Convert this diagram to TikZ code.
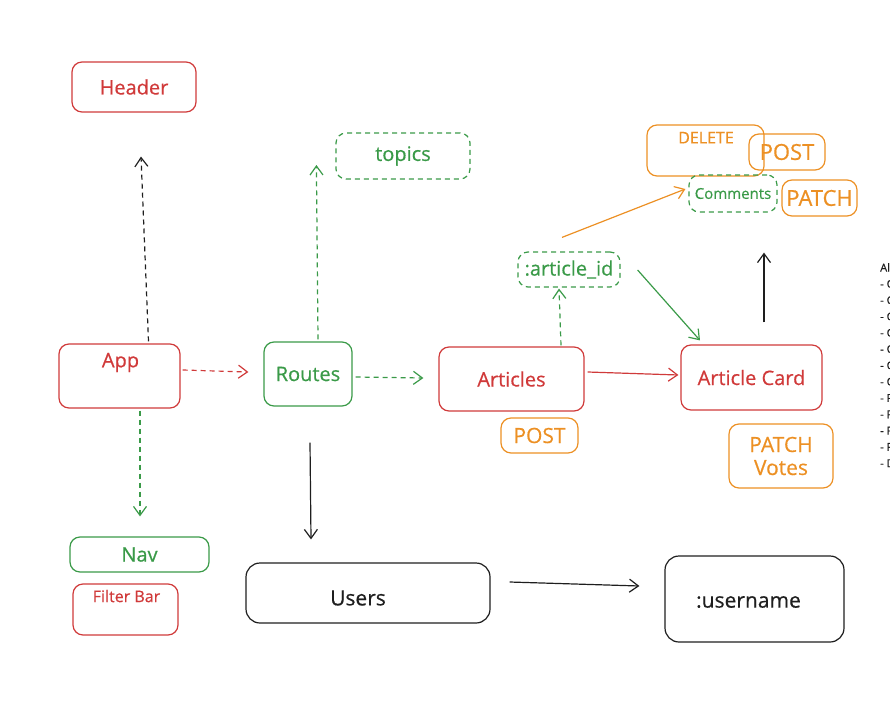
\documentclass[tikz,border=0pt]{standalone}
\usepackage{fontspec}
\setmainfont{Open Sans}[FakeBold=0.5]
\usetikzlibrary{arrows.meta}
\definecolor{cred}{HTML}{D03A3A}
\definecolor{cgreen}{HTML}{3A9A48}
\definecolor{corange}{HTML}{EC9024}
\definecolor{cblack}{HTML}{1E1E1E}
\tikzset{
  box/.style={draw, rectangle, rounded corners=10pt, line width=1.2pt, inner sep=0pt},
  bred/.style={box, draw=cred, text=cred},
  bgreen/.style={box, draw=cgreen, text=cgreen},
  borange/.style={box, draw=corange, text=corange},
  bblack/.style={box, draw=cblack, text=cblack, rounded corners=14pt},
  dsh/.style={dash pattern=on 5pt off 4pt},
  conn/.style={line width=1.2pt, -{Straight Barb[length=9pt,width=13pt]}},
  fs/.style={font=\fontsize{#1}{#1}\selectfont}
}
\begin{document}
\begin{tikzpicture}[x=1pt,y=-1pt]
\useasboundingbox (0,0) rectangle (890,722);
% nodes
\node[bred, fs=20, minimum width=124pt, minimum height=50pt] (header) at (134,87) {Header};
\node[bred, minimum width=121pt, minimum height=64pt] (app) at (119.5,376) {};
\node[text=cred, fs=20, anchor=north] (appt) at ([shift={(1,6)}]app.north) {App};
\node[bgreen, fs=20, minimum width=139pt, minimum height=35pt] (nav) at (139.5,554.5) {Nav};
\node[bred, minimum width=105pt, minimum height=51pt] (filter) at (125.5,609.5) {};
\node[text=cred, fs=16, anchor=north] (filtert) at ([shift={(1,3)}]filter.north) {Filter Bar};
\node[bgreen, fs=20, minimum width=88pt, minimum height=64pt] (routes) at (308,374) {Routes};
\node[bgreen, dsh, fs=20, minimum width=134pt, minimum height=46pt] (topics) at (403,156) {topics};
\node[bred, fs=20, minimum width=145pt, minimum height=64pt] (articles) at (511.5,379) {Articles};
\node[borange, fs=21, minimum width=77pt, minimum height=35pt] (posta) at (539.5,435.5) {POST};
\node[bgreen, dsh, fs=20, minimum width=102pt, minimum height=35pt] (artid) at (569,269.5) {:article\_id};
\node[bred, fs=20, minimum width=141pt, minimum height=65pt] (card) at (751.5,377.5) {Article Card};
\node[borange, fs=21, align=center, minimum width=104pt, minimum height=64pt] (votes) at (781,456) {PATCH\\[2pt]Votes};
\node[borange, minimum width=117pt, minimum height=51pt] (delete) at (705.5,150.5) {};
\node[text=corange, fs=16, anchor=north] (deletet) at ([shift={(0.5,4)}]delete.north) {DELETE};
\node[borange, fs=22, minimum width=76pt, minimum height=36pt] (postc) at (787,152) {POST};
\node[bgreen, dsh, fs=15, minimum width=88pt, minimum height=37pt] (comments) at (733,193.5) {Comments};
\node[borange, fs=22, minimum width=75pt, minimum height=36pt] (patch) at (819.5,198) {PATCH};
\node[bblack, minimum width=244pt, minimum height=60pt] (users) at (368,593) {};
\node[text=cblack, fs=21] (userst) at ([shift={(-10,5)}]users.center) {Users};
\node[bblack, minimum width=179pt, minimum height=86pt] (username) at (754.5,599) {};
\node[text=cblack, fs=21] (usernamet) at ([shift={(-6,3)}]username.center) {:username};
\node[text=cblack, anchor=north west, align=left, inner sep=0pt, font=\fontsize{11}{16.3}\selectfont] (notes) at (880,263)
  {Al\\- C\\- C\\- C\\- C\\- C\\- C\\- C\\- P\\- P\\- P\\- P\\- D};
% connectors
\draw[conn, dsh, cblack] ([shift={(29,-2)}]app.north) -- ([shift={(7,44)}]header.south);
\draw[conn, dsh, cred] ([shift={(2,-6)}]app.east) -- ([shift={(-15,-2)}]routes.west);
\draw[conn, dsh, cgreen] ([shift={(20.5,2)}]app.south) -- ([shift={(0.5,-20)}]nav.north);
\draw[conn, dsh, cgreen] ([shift={(10,-2)}]routes.north) -- ([shift={(-19,9)}]topics.west);
\draw[conn, dsh, cgreen] ([shift={(3,3)}]routes.east) -- ([shift={(-15,-1)}]articles.west);
\draw[conn, cblack] ([shift={(2,36)}]routes.south) -- ([shift={(-57,-23)}]users.north);
\draw[conn, dsh, cgreen] ([shift={(49.5,-1)}]articles.north) -- ([shift={(-10,1)}]artid.south);
\draw[conn, cred] ([shift={(3,-7)}]articles.east) -- ([shift={(-2,-2.5)}]card.west);
\draw[conn, cgreen] ([shift={(17,0.5)}]artid.east) -- ([shift={(-51.5,-4)}]card.north);
\draw[conn, corange] ([shift={(-7,-14)}]artid.north) -- ([shift={(-3,-4.5)}]comments.west);
\draw[conn, cblack] ([shift={(12.5,-22)}]card.north) -- ([shift={(31,40)}]comments.south);
\draw[conn, cblack] ([shift={(19,-11)}]users.east) -- ([shift={(-25,-13)}]username.west);
\end{tikzpicture}
\end{document}
